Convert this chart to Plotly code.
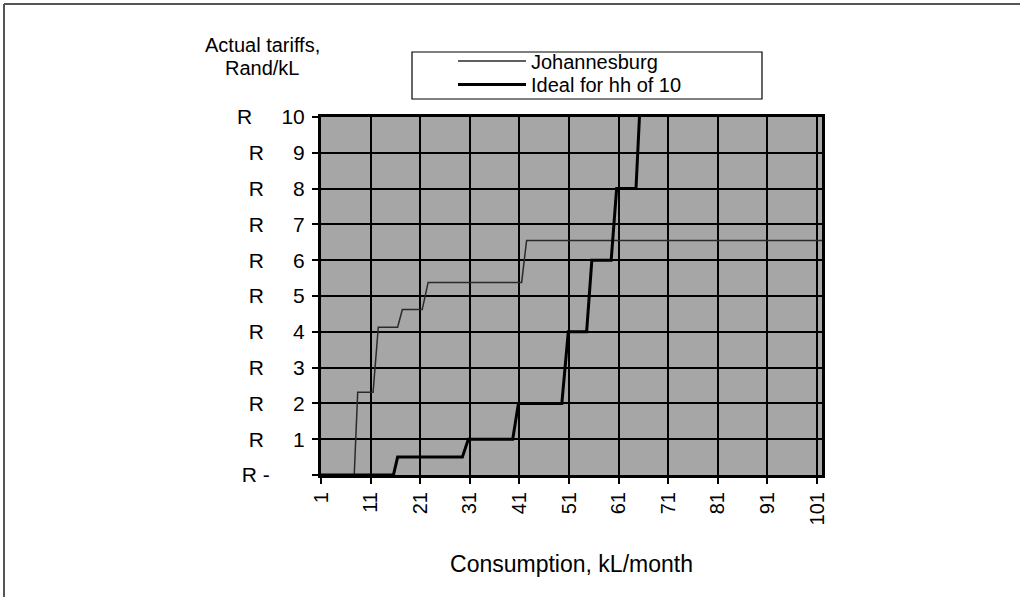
import plotly.graph_objects as go

# --- data ---
jhb_x = [1, 7.7, 8.4, 11.5, 12.55, 16.45, 17.4, 21.4, 22.6, 41.45, 42.45, 102]
jhb_y = [0, 0, 2.31, 2.31, 4.13, 4.13, 4.62, 4.62, 5.38, 5.38, 6.55, 6.55]

ideal_x = [1, 15.6, 16.45, 29.5, 30.7, 39.65, 40.8, 49.55, 50.85, 54.55, 55.6, 59.5, 60.6, 64.5, 65.2]
ideal_y = [0, 0, 0.5, 0.5, 1.0, 1.0, 2.0, 2.0, 4.0, 4.0, 6.0, 6.0, 8.0, 8.0, 10.0]

x_ticks = [1, 11, 21, 31, 41, 51, 61, 71, 81, 91, 101]
y_ticks = [0, 1, 2, 3, 4, 5, 6, 7, 8, 9, 10]
NB = "\u00a0"
y_labels = ["R" + NB + "-" + NB * 6] + ["R" + NB * 5 + str(v) for v in range(1, 11)]

series_names = ["Johannesburg", "Ideal for hh of 10"]
y_title_lines = ["Actual tariffs,", "Rand/kL"]
x_title = "Consumption, kL/month"

FONT = "Liberation Sans, Arial, Helvetica, sans-serif"
FS_XTICK = 20
FS_YTICK = 21
FS_TEXT = 20
FS_XTITLE = 23

W, H = 1020, 597
L, R, T, B = 321, 198, 117, 122
PW = W - L - R
PH = H - T - B


def px2x(px):
    return (px - L) / PW


def px2y(py):
    return (H - B - py) / PH


fig = go.Figure()
fig.add_trace(go.Scatter(x=jhb_x, y=jhb_y, mode="lines", name=series_names[0],
                         line=dict(color="#2a2a2a", width=1.5), legend="legend"))
fig.add_trace(go.Scatter(x=ideal_x, y=ideal_y, mode="lines", name=series_names[1],
                         line=dict(color="#000000", width=3), legend="legend2"))

leg_common = dict(
    xanchor="left", yanchor="middle",
    bgcolor="rgba(0,0,0,0)", borderwidth=0,
    font=dict(family=FONT, size=FS_TEXT, color="black"),
    itemwidth=68,
)

fig.update_layout(
    width=W, height=H,
    margin=dict(l=L, r=R, t=T, b=B, autoexpand=False),
    paper_bgcolor="white",
    plot_bgcolor="#a6a6a6",
    font=dict(family=FONT, size=FS_TEXT, color="black"),
    showlegend=True,
    legend=dict(x=px2x(453), y=px2y(61), **leg_common),
    legend2=dict(x=px2x(453), y=px2y(84.5), **leg_common),
)

fig.update_xaxes(
    range=[1, 102], tickmode="array", tickvals=x_ticks,
    ticktext=[str(v) for v in x_ticks], tickangle=-90,
    showgrid=True, gridcolor="black", gridwidth=1.5,
    zeroline=False, showline=True, linecolor="black", linewidth=3, mirror=True,
    ticks="outside", ticklen=6, tickwidth=1.5, tickcolor="black",
    tickfont=dict(family=FONT, size=FS_XTICK, color="black"),
    title=dict(text=x_title, font=dict(family=FONT, size=FS_XTITLE), standoff=32),
)
fig.update_yaxes(
    range=[0, 10], tickmode="array", tickvals=y_ticks, ticktext=y_labels,
    showgrid=True, gridcolor="black", gridwidth=1.5,
    zeroline=False, showline=True, linecolor="black", linewidth=3, mirror=True,
    ticks="outside", ticklen=6, tickwidth=1.5, tickcolor="black",
    ticklabelstandoff=3,
    tickfont=dict(family=FONT, size=FS_YTICK, color="black"),
)

# y-axis title at top left (two lines, tight spacing as in the reference)
for line_text, py in zip(y_title_lines, [45, 68.5]):
    fig.add_annotation(text=line_text, xref="paper", yref="paper",
                       x=px2x(262), y=px2y(py), xanchor="center", yanchor="middle",
                       showarrow=False, align="center",
                       font=dict(family=FONT, size=FS_TEXT, color="black"))

# legend frame
fig.add_shape(type="rect", xref="paper", yref="paper",
              x0=px2x(412), x1=px2x(762), y0=px2y(99), y1=px2y(52),
              line=dict(color="black", width=1.2), fillcolor="rgba(0,0,0,0)", layer="above")

# figure frame (left and top edges)
fig.add_shape(type="line", xref="paper", yref="paper",
              x0=px2x(4), x1=px2x(4), y0=px2y(597), y1=px2y(4),
              line=dict(color="#555555", width=2))
fig.add_shape(type="line", xref="paper", yref="paper",
              x0=px2x(4), x1=px2x(1020), y0=px2y(4), y1=px2y(4),
              line=dict(color="#555555", width=2))

fig.write_html(
    "out.html",
    config={"displayModeBar": False},
    post_script="document.body.style.margin='0';document.body.style.overflow='hidden';",
)
